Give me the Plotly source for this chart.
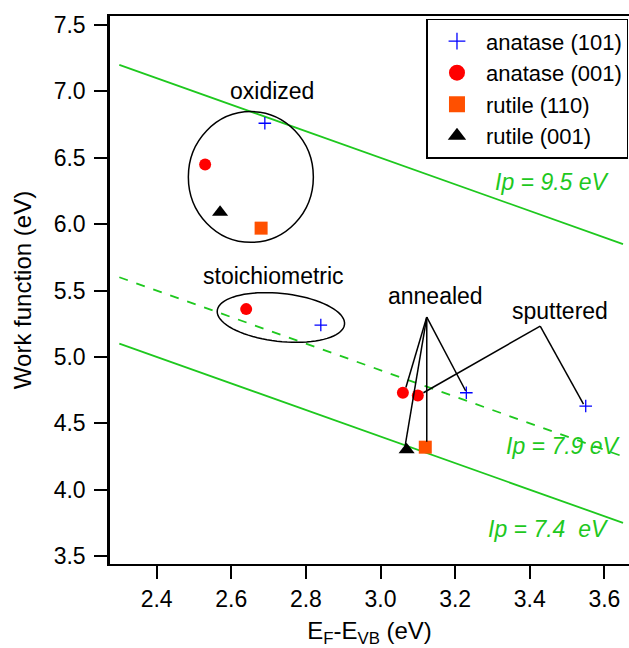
import numpy as np
import plotly.graph_objects as go

# ---- data ----
a101_x = [2.69, 2.84, 3.23, 3.55]
a101_y = [6.76, 5.24, 4.73, 4.63]
a001_x = [2.53, 2.64, 3.06, 3.10]
a001_y = [6.45, 5.36, 4.73, 4.71]
r110_x = [2.68, 3.12]
r110_y = [5.97, 4.32]
r001_x = [2.57, 3.07]
r001_y = [6.09, 4.30]

ip_values = [9.5, 7.9, 7.4]
ip_dash = ["solid", "dash", "solid"]
ip_labels = ["Ip = 9.5 eV", "Ip = 7.9 eV", "Ip = 7.4  eV"]
ip_label_pos = [(3.46, 6.32), (3.49, 4.33), (3.45, 3.70)]
line_x = [2.30, 3.65]

GREEN = "rgb(30,200,30)"
FONT = "Arial, Liberation Sans, sans-serif"

xr = [2.275, 3.666]
yr = [3.44, 7.568]
L, T, W, H = 110, 16, 629, 648
R, B = 0, 84
pw = W - L - R
ph = H - T - B

fig = go.Figure()

for ip, dash in zip(ip_values, ip_dash):
    fig.add_trace(go.Scatter(x=line_x, y=[ip - v for v in line_x], mode="lines",
                             line=dict(color=GREEN, width=1.8, dash=dash), showlegend=False,
                             hoverinfo="skip"))

# annotation connector lines (annealed / sputtered)
ann_apex = (3.124, 5.30)
ann_ends = [(3.068, 4.77), (3.066, 4.33), (3.124, 4.36), (3.228, 4.745)]
sput_apex = (3.428, 5.232)
sput_ends = [(3.115, 4.73), (3.544, 4.645)]
for ex_, ey_ in ann_ends:
    fig.add_shape(type="line", x0=ann_apex[0], y0=ann_apex[1], x1=ex_, y1=ey_,
                  line=dict(color="black", width=1.5))
for ex_, ey_ in sput_ends:
    fig.add_shape(type="line", x0=sput_apex[0], y0=sput_apex[1], x1=ex_, y1=ey_,
                  line=dict(color="black", width=1.5))

# oxidized circle
fig.add_shape(type="circle", x0=2.485, x1=2.820, y0=5.863, y1=6.848,
              line=dict(color="black", width=1.5))

# stoichiometric tilted ellipse (computed in pixel space)
sx = pw / (xr[1] - xr[0])
sy = ph / (yr[1] - yr[0])
cx, cy = 2.733, 5.297
a_px, b_px, th = 64, 24, np.deg2rad(6.2)
t = np.linspace(0, 2 * np.pi, 80)
dx = a_px * np.cos(t) * np.cos(th) - b_px * np.sin(t) * np.sin(th)
dy = a_px * np.cos(t) * np.sin(th) + b_px * np.sin(t) * np.cos(th)
ex = cx + dx / sx
ey = cy - dy / sy
path = "M " + " L ".join(f"{u:.5f},{v:.5f}" for u, v in zip(ex, ey)) + " Z"
fig.add_shape(type="path", path=path, line=dict(color="black", width=1.5))

markers = [
    ("anatase (101)", a101_x, a101_y, dict(symbol="cross-thin", size=9, line=dict(color="blue", width=1.3), color="blue"),
     dict(symbol="cross-thin", size=12, line=dict(color="blue", width=1.3), color="blue")),
    ("anatase (001)", a001_x, a001_y, dict(symbol="circle", size=12, color="red"),
     dict(symbol="circle", size=16, color="red")),
    ("rutile (110)", r110_x, r110_y, dict(symbol="square", size=13, color="rgb(255,80,0)"),
     dict(symbol="square", size=16, color="rgb(255,80,0)")),
    ("rutile (001)", r001_x, r001_y, dict(symbol="triangle-up", size=14, color="black"),
     dict(symbol="triangle-up", size=16, color="black")),
]
for name, xs, ys, mk, lmk in markers:
    fig.add_trace(go.Scatter(x=xs, y=ys, mode="markers", marker=mk, name=name, showlegend=False))
for name, xs, ys, mk, lmk in markers:
    fig.add_trace(go.Scatter(x=[None], y=[None], mode="markers", marker=lmk, name=name, showlegend=True))

texts = [("oxidized", 2.709, 7.0), ("stoichiometric", 2.712, 5.61),
         ("annealed", 3.147, 5.46), ("sputtered", 3.481, 5.345)]
for s, x, y in texts:
    fig.add_annotation(x=x, y=y, text=s, showarrow=False, font=dict(size=23, color="black", family=FONT))
for s, (x, y) in zip(ip_labels, ip_label_pos):
    fig.add_annotation(x=x, y=y, text=f"<i>{s}</i>", showarrow=False, font=dict(size=23, color=GREEN, family=FONT))

fig.update_layout(
    width=W, height=H,
    margin=dict(l=L, r=R, t=T, b=B, autoexpand=False),
    paper_bgcolor="white", plot_bgcolor="white",
    font=dict(family=FONT, size=22, color="black"),
    showlegend=True,
    legend=dict(x=0.999, xanchor="right", y=0.995, yanchor="top", bordercolor="black", borderwidth=1.5,
                bgcolor="white", font=dict(size=22, family=FONT), itemwidth=48, tracegroupgap=0),
    xaxis=dict(range=xr, showgrid=False, zeroline=False, showline=True, linecolor="black", linewidth=2,
               mirror=True, ticks="outside", ticklen=13, tickwidth=2, tickcolor="black", automargin=False,
               tickfont=dict(size=23, family=FONT),
               tickvals=[2.4, 2.6, 2.8, 3.0, 3.2, 3.4, 3.6], ticktext=["2.4", "2.6", "2.8", "3.0", "3.2", "3.4", "3.6"],
               title=dict(text="E<sub>F</sub>-E<sub>VB</sub> (eV)", standoff=12,
                          font=dict(size=24, family=FONT, color="black"))),
    yaxis=dict(range=yr, showgrid=False, zeroline=False, showline=True, linecolor="black", linewidth=2.5,
               ticks="outside", ticklen=13, tickwidth=2, tickcolor="black", automargin=False,
               tickfont=dict(size=23, family=FONT), ticklabelstandoff=4,
               tickvals=[3.5, 4.0, 4.5, 5.0, 5.5, 6.0, 6.5, 7.0, 7.5],
               ticktext=["3.5", "4.0", "4.5", "5.0", "5.5", "6.0", "6.5", "7.0", "7.5"],
               title=dict(text="Work function (eV)", standoff=16,
                          font=dict(size=24, family=FONT, color="black"))),
)

fig.write_html("out.html", config={"displayModeBar": False},
               post_script="document.body.style.margin='0';document.body.style.overflow='hidden';")
